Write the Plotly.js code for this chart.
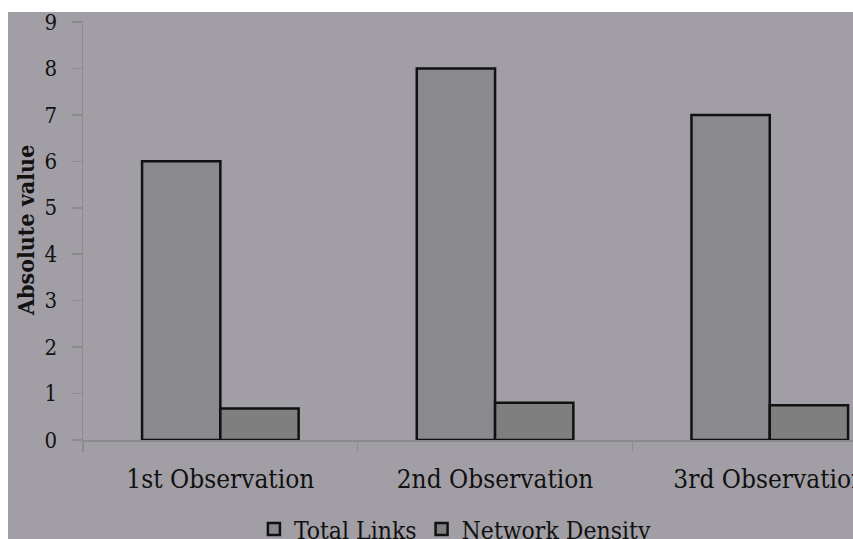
<!DOCTYPE html>
<html>
<head>
<meta charset="utf-8">
<script src="https://cdn.plot.ly/plotly-3.0.1.min.js"></script>
<style>
  html, body { margin: 0; padding: 0; background: #ffffff; overflow: hidden; }
  #wrap { position: absolute; left: 8px; top: 12px; width: 845px; height: 527px; background: #a19fa5; overflow: hidden; }
  #chart { position: absolute; left: 0; top: -20px; width: 845px; height: 587px; }
</style>
</head>
<body>
<div id="wrap"><div id="chart"></div></div>
<script>
const categories = ["1st Observation", "2nd Observation", "3rd Observation"];
const totalLinks = [6, 8, 7];
const networkDensity = [0.68, 0.8, 0.75];
const yTicks = [0, 1, 2, 3, 4, 5, 6, 7, 8, 9];

const font = "'DejaVu Serif Condensed', 'DejaVu Serif', serif";

const traces = [
  {
    type: "bar", name: "Total Links", x: categories, y: totalLinks,
    marker: { color: "#8a898e", line: { color: "#111111", width: 2.5 } }
  },
  {
    type: "bar", name: "Network Density", x: categories, y: networkDensity,
    marker: { color: "#7f7f80", line: { color: "#111111", width: 2.5 } }
  }
];

const layout = {
  width: 845, height: 587,
  paper_bgcolor: "rgba(0,0,0,0)",
  plot_bgcolor: "rgba(0,0,0,0)",
  margin: { l: 75, r: 0, t: 30, b: 139 },
  barmode: "group",
  bargap: 0.43,
  bargroupgap: 0,
  font: { family: font, color: "#111111", size: 22 },
  showlegend: true,
  legend: {
    orientation: "h", x: 0.483, xanchor: "center", y: -0.213, yanchor: "middle",
    font: { family: font, size: 24.5, color: "#111111" },
    traceorder: "normal", itemwidth: 30
  },
  xaxis: {
    type: "category",
    range: [-0.5, 2.303],
    showline: true, linecolor: "#8c8c8c", linewidth: 1.5,
    ticks: "outside", tickson: "boundaries", ticklen: 10, tickcolor: "#8c8c8c", tickwidth: 1.5,
    ticklabelstandoff: 15,
    showgrid: false, zeroline: false,
    tickfont: { family: font, size: 26, color: "#111111" }
  },
  yaxis: {
    range: [0, 9],
    tickvals: yTicks,
    showline: true, linecolor: "#8c8c8c", linewidth: 1.5,
    ticks: "outside", ticklen: 10, tickcolor: "#8c8c8c", tickwidth: 1.5,
    ticklabelstandoff: 10,
    showgrid: false, zeroline: false,
    tickfont: { family: font, size: 22, color: "#111111" }
  },
  annotations: [
    {
      text: "<b>Absolute value</b>", textangle: -90,
      xref: "paper", yref: "paper",
      x: -0.0753, y: 0.5, xanchor: "center", yanchor: "middle",
      showarrow: false,
      font: { family: font, size: 23, color: "#111111" }
    }
  ]
};

Plotly.newPlot("chart", traces, layout, { displayModeBar: false, staticPlot: true });
</script>
</body>
</html>
